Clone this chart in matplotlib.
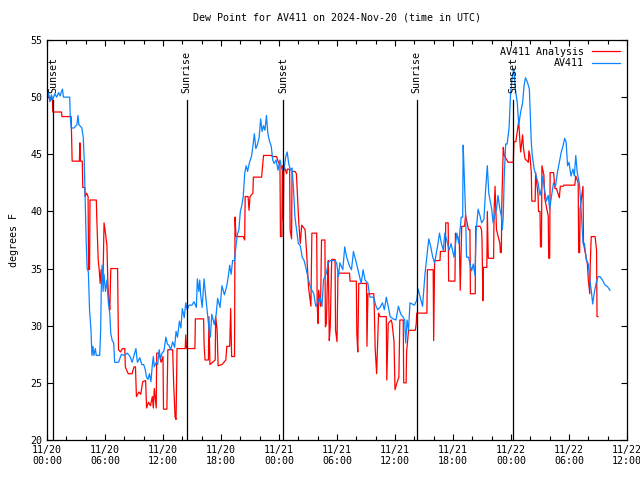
import matplotlib
matplotlib.use("Agg")
import matplotlib.pyplot as plt
import numpy as np

# hours since 11/20 00:00 UTC
blue_h = [0.0, 0.15, 0.3, 0.45, 0.6, 0.8, 1.0, 1.2, 1.35, 1.5, 1.6, 1.7, 2.35, 2.4, 2.5, 2.8, 3.1, 3.2, 3.3, 3.6,
          3.75, 3.85, 3.95, 4.05, 4.15, 4.28, 4.4, 4.55, 4.65, 4.75, 4.85, 5.0, 5.1, 5.45, 5.55, 5.62, 5.7, 5.8, 5.9,
          6.05, 6.2, 6.35, 6.5, 6.6, 6.75, 6.9, 7.0, 7.4, 7.7, 8.0, 8.3, 8.6, 8.8, 9.0, 9.2, 9.35, 9.6, 9.8, 10.0,
          10.15, 10.3, 10.45, 10.6, 10.75, 10.9, 11.0, 11.1, 11.3, 11.45, 11.6, 11.75, 11.9, 12.1, 12.3, 12.45, 12.6,
          12.8, 13.0, 13.2, 13.35, 13.5, 13.7, 13.85, 14.0, 14.2, 14.35, 14.5, 14.7, 15.0, 15.2, 15.45, 15.55, 15.7,
          15.8, 15.9, 16.05, 16.25, 16.4, 16.6, 16.75, 16.9, 17.05, 17.3, 17.5, 17.65, 17.9, 18.1, 18.35, 18.6, 18.75,
          18.9, 19.05, 19.2, 19.4, 19.55, 19.7, 19.85, 20.0, 20.15, 20.3, 20.45, 20.6, 20.75, 20.95, 21.15, 21.3,
          21.45, 21.6, 21.75, 21.95, 22.1, 22.25, 22.4, 22.55, 22.7, 22.85, 23.0, 23.2, 23.35, 23.5, 23.7, 23.9, 24.1,
          24.3, 24.5, 24.7, 24.85, 25.0, 25.2, 25.35, 25.5, 25.65, 25.85, 26.0, 26.2, 26.4, 26.6, 26.8, 27.0, 27.2,
          27.4, 27.6, 27.8, 28.0, 28.24, 28.45, 28.6, 28.9, 29.1, 29.3, 29.8, 29.96, 30.15, 30.3, 30.6, 30.8, 31.0,
          31.3, 31.5, 31.7, 32.0, 32.3, 32.5, 32.7, 32.9, 33.2, 33.4, 33.8, 34.0, 34.2, 34.45, 34.7, 34.9, 35.1, 35.3,
          35.5, 35.8, 36.1, 36.35, 36.6, 36.8, 37.0, 37.1, 37.25, 37.4, 37.55, 38.0, 38.24, 38.4, 38.6, 38.85, 39.1,
          39.35, 39.5, 39.7, 39.9, 40.1, 40.3, 40.45, 40.6, 40.8, 41.0, 41.15, 41.35, 41.6, 41.8, 42.1, 42.4, 42.6,
          42.85, 43.0, 43.05, 43.12, 43.3, 43.4, 43.6, 43.93, 44.1, 44.27, 44.4, 44.6, 44.8, 44.96, 45.2, 45.35,
          45.55, 45.7, 46.0, 46.15, 46.3, 46.5, 46.65, 46.85, 47.0, 47.1, 47.2, 47.3, 47.45, 47.6, 47.8, 47.95, 48.1,
          48.3, 48.45, 48.65, 48.8, 49.0, 49.2, 49.35, 49.5, 49.7, 49.9, 50.0, 50.1, 50.2, 50.4, 50.6, 50.8, 51.0,
          51.15, 51.3, 51.45, 51.65, 51.85, 52.0, 52.2, 52.4, 52.6, 52.8, 53.0, 53.2, 53.4, 53.55, 53.7, 53.85, 54.0,
          54.2, 54.4, 54.55, 54.7, 54.85, 55.0, 55.1, 55.25, 55.45, 55.6, 55.8, 56.0, 56.15, 56.3, 56.45, 56.6, 56.8,
          57.0, 57.2, 57.45, 57.7, 58.0, 58.24]
blue_v = [49.8, 50.4, 49.6, 50.2, 49.8, 50.3, 50.0, 50.4, 50.1, 50.5, 50.7, 50.0, 50.0, 48.4, 47.3, 47.3, 47.6, 48.4,
          47.6, 47.3, 46.5, 44.5, 41.0, 37.5, 35.0, 34.7, 31.4, 29.6, 27.4, 28.2, 27.4, 28.0, 27.4, 27.4, 29.6, 33.5,
          35.3, 33.0, 34.5, 33.0, 34.0, 32.0, 31.0, 29.3, 28.7, 28.5, 26.8, 26.8, 27.5, 27.4, 27.6, 27.3, 26.8, 27.4,
          28.0, 26.8, 27.2, 26.6, 26.6, 26.2, 25.5, 25.3, 25.8, 25.1, 26.6, 27.3, 26.4, 26.8, 26.6, 27.9, 27.1, 27.6,
          27.8, 29.0, 28.4, 28.3, 27.9, 28.6, 28.1, 29.5, 29.0, 30.4, 29.8, 31.5, 30.7, 32.0, 31.4, 31.8, 31.8, 32.1,
          31.6, 34.1, 33.0, 34.0, 32.7, 31.6, 34.1, 32.7, 31.0, 29.8, 29.0, 31.0, 30.1, 31.0, 32.4, 31.6, 33.5, 32.7,
          33.5, 34.3, 35.3, 34.5, 35.7, 35.7, 37.0, 38.0, 38.4, 40.0, 40.5, 41.3, 43.3, 44.0, 43.5, 44.3, 44.8, 45.7,
          46.8, 45.5, 45.8, 46.5, 48.1, 47.0, 47.5, 47.1, 48.4, 46.8, 46.2, 45.7, 44.5, 44.2, 44.5, 43.6, 44.5, 43.7,
          43.6, 44.8, 45.2, 44.2, 43.6, 43.8, 42.0, 39.5, 38.2, 37.2, 37.0, 36.0, 35.7, 35.0, 34.2, 33.5, 33.1, 32.8,
          31.7, 32.0, 32.5, 31.7, 34.0, 34.6, 35.5, 35.7, 35.7, 35.5, 34.3, 35.5, 34.9, 36.9, 36.0, 35.2, 34.9, 36.5,
          35.5, 34.4, 33.7, 34.9, 34.0, 33.7, 32.5, 32.5, 31.8, 31.4, 31.6, 32.0, 31.4, 32.5, 31.7, 30.8, 30.6, 30.5,
          31.7, 31.0, 30.8, 30.5, 28.5, 30.5, 29.6, 32.0, 31.8, 32.2, 33.2, 32.5, 31.7, 34.5, 36.5, 37.6, 36.9, 36.0,
          35.5, 36.5, 37.2, 38.1, 37.2, 36.6, 38.1, 37.5, 36.6, 37.2, 36.0, 38.1, 37.2, 39.5, 39.5, 45.8, 44.2, 39.8,
          36.0, 36.0, 34.8, 35.4, 34.4, 38.4, 40.2, 39.6, 39.0, 39.3, 41.6, 44.0, 41.6, 40.2, 39.0, 39.6, 40.2, 41.4,
          40.2, 39.6, 38.4, 39.6, 43.0, 45.9, 45.9, 47.3, 50.2, 51.6, 52.5, 50.7, 49.5, 47.6, 48.7, 49.5, 51.0, 51.7,
          51.3, 50.7, 48.3, 46.0, 44.9, 43.7, 43.1, 42.5, 41.4, 42.0, 43.1, 42.0, 40.9, 41.4, 40.2, 41.4, 42.5, 42.2,
          43.4, 44.3, 45.2, 45.8, 46.4, 46.1, 44.0, 44.3, 43.1, 43.7, 43.1, 44.9, 43.4, 42.8, 42.2, 40.2, 37.2, 37.2,
          35.7, 35.4, 34.0, 33.1, 31.9, 32.8, 33.7, 34.3, 34.3, 34.0, 33.6, 33.4, 33.1]

red_h = [0.0, 0.15, 0.3, 0.55, 0.6, 1.5, 1.55, 2.5, 2.55, 2.6, 3.35, 3.4, 3.45, 3.65, 3.7, 3.9, 3.95, 4.1, 4.25, 4.3,
         4.4, 4.45, 5.1, 5.15, 5.3, 5.4, 5.5, 5.6, 5.8, 5.9, 6.05, 6.2, 6.3, 6.4, 6.5, 6.6, 7.3, 7.4, 7.6, 7.8, 8.05,
         8.1, 8.4, 8.8, 9.0, 9.15, 9.25, 9.5, 9.7, 9.9, 10.2, 10.3, 10.5, 10.7, 10.9, 11.0, 11.1, 11.3, 11.35, 11.6,
         11.8, 12.0, 12.05, 12.4, 12.5, 13.0, 13.1, 13.25, 13.35, 13.45, 14.3, 14.35, 14.45, 15.3, 15.35, 16.2, 16.25,
         16.35, 16.7, 16.75, 16.86, 17.4, 17.45, 17.6, 17.7, 18.1, 18.5, 18.6, 18.9, 19.0, 19.1, 19.4, 19.45, 19.55,
         20.3, 20.45, 20.5, 20.8, 20.9, 21.0, 21.3, 21.35, 22.2, 22.3, 22.4, 23.25, 23.3, 23.75, 23.9, 24.1, 24.15,
         24.3, 24.35, 24.45, 24.5, 24.8, 24.85, 25.1, 25.15, 25.3, 25.35, 25.65, 25.8, 25.95, 26.05, 26.2, 26.35,
         26.7, 26.85, 26.95, 27.05, 27.3, 27.4, 27.9, 27.95, 28.05, 28.1, 28.3, 28.4, 28.75, 28.8, 28.9, 29.0, 29.1,
         29.2, 29.3, 29.45, 29.8, 29.85, 30.0, 30.1, 31.3, 31.35, 32.0, 32.05, 32.15, 32.25, 33.05, 33.1, 33.2, 33.8,
         33.85, 33.95, 34.1, 34.3, 34.45, 35.1, 35.15, 35.3, 35.6, 35.7, 35.9, 36.0, 36.2, 36.4, 36.5, 36.85, 36.9,
         37.15, 37.2, 37.4, 38.1, 38.2, 38.25, 39.3, 39.35, 39.95, 40.0, 40.1, 40.65, 40.7, 41.2, 41.25, 41.5, 41.55,
         42.2, 42.25, 42.65, 42.75, 42.9, 43.2, 43.3, 43.6, 43.75, 43.8, 44.3, 44.35, 44.8, 44.95, 45.0, 45.1, 45.15,
         45.5, 45.55, 45.65, 46.2, 46.25, 46.35, 46.5, 46.85, 46.9, 47.0, 47.05, 47.2, 47.3, 47.5, 47.7, 48.24, 48.3,
         48.5, 48.7, 48.8, 48.9, 49.0, 49.2, 49.3, 49.45, 49.8, 49.85, 49.96, 50.1, 50.15, 50.5, 50.55, 50.8, 50.85,
         51.0, 51.05, 51.15, 51.2, 51.4, 51.5, 51.85, 51.9, 52.0, 52.05, 52.4, 52.55, 52.7, 53.0, 53.1, 53.4, 53.45,
         54.6, 54.7, 54.95, 55.0, 55.1, 55.15, 55.45, 55.5, 55.9, 56.0, 56.15, 56.2, 56.3, 56.7, 56.85, 56.9, 57.0]
red_v = [49.8, 50.2, 49.7, 49.9, 48.7, 48.7, 48.3, 48.3, 46.4, 44.4, 44.4, 46.0, 44.4, 44.4, 42.1, 42.1, 41.3, 41.6,
         41.3, 34.9, 34.9, 41.0, 41.0, 39.4, 35.7, 34.9, 33.7, 34.9, 34.3, 39.0, 38.1, 37.0, 33.7, 32.0, 31.4, 35.0,
         35.0, 27.9, 27.7, 28.0, 28.0, 26.4, 25.8, 25.8, 26.4, 26.4, 23.8, 24.2, 24.0, 25.1, 25.2, 22.8, 23.3, 23.0,
         23.8, 22.8, 24.5, 22.8, 27.6, 27.6, 26.8, 27.3, 22.7, 22.7, 27.9, 27.9, 25.0, 22.0, 21.8, 28.0, 28.0, 29.2,
         28.0, 28.0, 30.6, 30.6, 28.4, 27.0, 27.0, 30.8, 26.6, 27.0, 30.8, 29.6, 26.5, 26.6, 27.0, 28.2, 28.2, 31.5,
         27.3, 27.3, 39.5, 37.8, 37.8, 37.5, 41.3, 41.3, 40.1, 41.3, 41.6, 43.0, 43.0, 44.0, 44.9, 44.9, 44.8, 44.8,
         44.4, 44.0, 37.8, 37.8, 44.0, 39.2, 44.0, 43.3, 43.7, 43.7, 38.4, 37.6, 43.5, 43.5, 43.3, 40.7, 39.0, 37.2,
         38.8, 38.4, 36.5, 34.9, 33.4, 31.7, 38.1, 38.1, 31.7, 30.2, 33.1, 31.7, 37.5, 37.5, 29.9, 30.2, 33.7, 35.7,
         28.7, 29.9, 35.8, 35.8, 29.6, 28.6, 34.6, 34.6, 33.9, 33.9, 29.3, 27.7, 33.7, 33.7, 28.2, 32.8, 32.8, 31.7,
         28.0, 25.8, 31.1, 30.8, 30.8, 25.25, 30.2, 30.5, 30.2, 28.6, 24.4, 25.0, 25.5, 30.5, 30.5, 25.0, 25.0, 27.7,
         29.6, 29.6, 30.2, 31.1, 31.1, 34.9, 34.9, 28.7, 35.7, 35.7, 36.5, 36.5, 39.0, 39.0, 33.9, 33.9, 38.1, 37.5,
         33.1, 38.7, 38.7, 39.7, 38.4, 38.4, 32.8, 32.8, 38.7, 38.7, 38.4, 37.5, 32.2, 35.1, 35.1, 40.0, 35.9, 35.9,
         40.0, 42.2, 38.4, 37.2, 36.4, 36.4, 40.7, 45.6, 44.9, 44.6, 44.3, 44.3, 46.1, 46.1, 47.3, 47.9, 46.4, 45.2,
         46.7, 45.5, 44.6, 44.3, 45.3, 44.9, 43.4, 40.9, 40.9, 43.4, 41.4, 40.0, 40.0, 36.9, 36.9, 44.0, 43.2, 41.1,
         39.6, 35.9, 35.9, 43.4, 43.4, 42.0, 42.0, 41.2, 42.2, 42.2, 42.3, 42.3, 43.1, 42.5, 36.4, 36.4, 40.2, 42.2,
         37.2, 35.4, 34.0, 32.8, 35.4, 37.8, 37.8, 36.6, 30.8, 30.8]

sun_h = [0.65, 14.45, 24.45, 38.24, 48.24]
sun_labels = ["Sunset", "Sunrise", "Sunset", "Sunrise", "Sunset"]

tick_h = [0, 6, 12, 18, 24, 30, 36, 42, 48, 54, 60]
tick_labels = ["11/20\n00:00", "11/20\n06:00", "11/20\n12:00", "11/20\n18:00", "11/21\n00:00", "11/21\n06:00",
               "11/21\n12:00", "11/21\n18:00", "11/22\n00:00", "11/22\n06:00", "11/22\n12:00"]

plt.rcParams['font.family'] = ['DejaVu Sans Mono']
fs = 7.2

fig = plt.figure(figsize=(6.4, 4.8), dpi=100)
ax = fig.add_axes([47/640, 40/480, 580/640, 400/480])

ax.plot(red_h, red_v, color='#ff0000', lw=0.9, label='AV411 Analysis')
ax.plot(blue_h, blue_v, color='#0a84ff', lw=0.9, label='AV411')

for h, lab in zip(sun_h, sun_labels):
    ax.axvline(h, ymin=0, ymax=0.85, color='black', lw=0.9)
    ax.text(h, 50.35, lab, rotation=90, ha='center', va='bottom', fontsize=fs)

ax.set_xlim(0, 60)
ax.set_ylim(20, 55)
ax.set_xticks(tick_h)
ax.set_xticklabels(tick_labels, fontsize=fs)
ax.set_xticks(np.arange(0, 61, 2), minor=True)
ax.set_yticks(np.arange(20, 56, 5))
ax.tick_params(axis='y', labelsize=fs)
ax.tick_params(which='both', direction='in', top=True, right=True, width=0.8)
ax.tick_params(which='major', length=4)
ax.tick_params(which='minor', length=3)
for s in ax.spines.values():
    s.set_linewidth(0.9)

ax.set_ylabel('degrees F', fontsize=fs, labelpad=8)
ax.set_title('Dew Point for AV411 on 2024-Nov-20 (time in UTC)', fontsize=fs, pad=14)
ax.legend(loc='upper right', frameon=False, markerfirst=False, fontsize=fs,
          handlelength=2.8, labelspacing=0.15, borderaxespad=0.3, handletextpad=0.8)

plt.savefig('out.png', dpi=100)
